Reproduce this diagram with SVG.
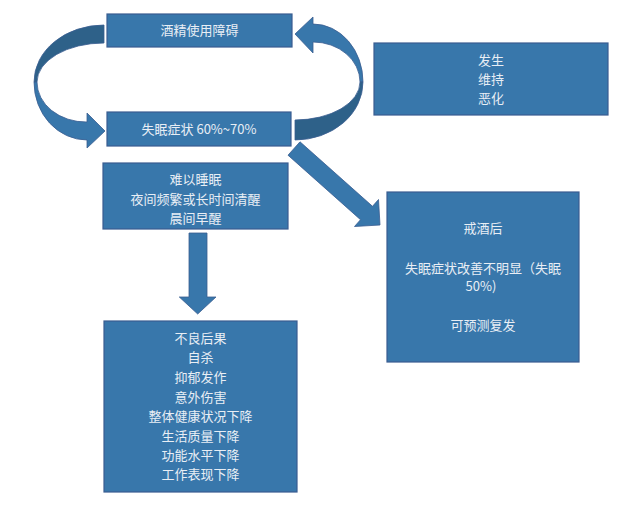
<svg xmlns="http://www.w3.org/2000/svg" width="640" height="511" viewBox="0 0 640 511">
<style>
.box{fill:#3877AB;stroke:#3A5D91;stroke-width:1.2}
.arr{fill:#3877AB;stroke:#3A5D91;stroke-width:0.8}
.dark{fill:#2E6189;stroke:#3A5D91;stroke-width:0.8}
text{font-family:"Noto Sans CJK SC","Liberation Sans",sans-serif;font-size:13px;fill:#E8EEF5;text-anchor:middle}
</style>
<rect width="640" height="511" fill="#ffffff"/>
<g id="connectors">
  <g id="curve-left">
    <path class="dark" d="M104,25 A70,57 0 0 0 34,82 L37,82 A67,39 0 0 1 104,43 Z"/>
    <path class="arr" d="M34,82 A53,58 0 0 0 87,140 L87,148 L105,131 L87,113 L87,122 A49,40 0 0 1 37,82 Z"/>
  </g>
  <g id="curve-right">
    <path class="arr" d="M313,24 A50,58 0 0 1 363,82 L360,82 A47,40 0 0 0 313,42 L313,53 L295,34 L313,17 Z"/>
    <path class="dark" d="M363,82 A68,58 0 0 1 295,140 L295,120 A65,38 0 0 0 360,82 Z"/>
  </g>
  <polygon id="arrow-diag" class="arr" points="300,141.8 372.5,206.3 378.5,199.5 380,225 354.5,226.5 360.5,219.7 288,155.2"/>
  <polygon id="arrow-down" class="arr" points="189,233 207,233 207,297 216,297 197.7,314 179.3,297 189,297"/>
</g>
<g id="node-aud">
  <rect class="box" x="107" y="14" width="185" height="33"/>
  <text x="199.5" y="35">酒精使用障碍</text>
</g>
<g id="node-insomnia">
  <rect class="box" x="107" y="112" width="184" height="34"/>
  <text x="199" y="134">失眠症状 60%~70%</text>
</g>
<g id="node-legend">
  <rect class="box" x="374" y="43" width="234" height="72"/>
  <text x="491" y="65">发生</text>
  <text x="491" y="84">维持</text>
  <text x="491" y="103">恶化</text>
</g>
<g id="node-symptoms">
  <rect class="box" x="103" y="163" width="185" height="66"/>
  <text x="195.5" y="184">难以睡眠</text>
  <text x="195.5" y="204">夜间频繁或长时间清醒</text>
  <text x="195.5" y="223">晨间早醒</text>
</g>
<g id="node-abstinence">
  <rect class="box" x="387" y="192" width="192" height="170"/>
  <text x="483" y="233">戒酒后</text>
  <text x="483" y="273">失眠症状改善不明显（失眠</text>
  <text x="481" y="291">50%)</text>
  <text x="483" y="330">可预测复发</text>
</g>
<g id="node-consequences">
  <rect class="box" x="104" y="321" width="193" height="171"/>
  <text x="200.5" y="343">不良后果</text>
  <text x="200.5" y="362">自杀</text>
  <text x="200.5" y="382">抑郁发作</text>
  <text x="200.5" y="402">意外伤害</text>
  <text x="200.5" y="421">整体健康状况下降</text>
  <text x="200.5" y="441">生活质量下降</text>
  <text x="200.5" y="460">功能水平下降</text>
  <text x="200.5" y="479">工作表现下降</text>
</g>
</svg>
